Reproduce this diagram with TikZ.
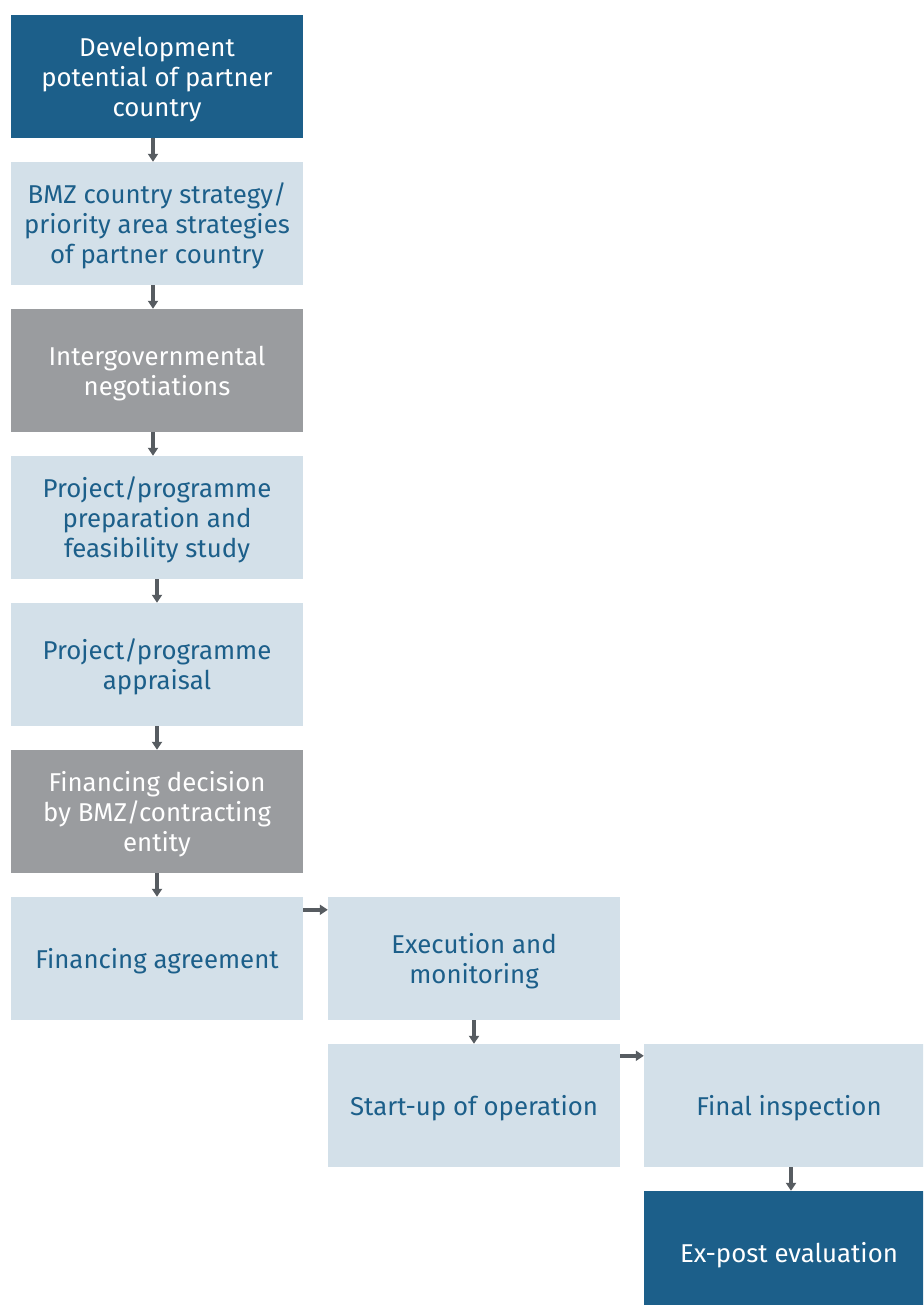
\documentclass[tikz,border=0pt]{standalone}
\usepackage{fontspec}
\setmainfont{Fira Sans}
\usetikzlibrary{arrows.meta}
\definecolor{dblue}{HTML}{1C5F8A}
\definecolor{lblue}{HTML}{D3E0E9}
\definecolor{gbox}{HTML}{9A9C9F}
\definecolor{arrc}{HTML}{575C61}
\newcommand{\topst}{\rule{0pt}{26pt}}
\begin{document}
\begin{tikzpicture}[x=1pt,y=-1pt,
  box/.style={rectangle,minimum width=292pt,minimum height=123pt,inner sep=0pt,align=center,
    font=\fontsize{25.8}{30}\selectfont},
  darkbox/.style={box,fill=dblue,text=white},
  lightbox/.style={box,fill=lblue,text=dblue},
  graybox/.style={box,fill=gbox,text=white},
  arr/.style={draw=arrc,line width=3.5pt,-{Triangle[length=8pt,width=10pt]}}]
\useasboundingbox[fill=white] (0,0) rectangle (923,1305);
\clip (0,0) rectangle (923,1305);
\node[darkbox] (a) at (157,76.5) {\topst Development\\potential of partner\\country};
\node[lightbox] (b) at (157,223.5) {\topst BMZ country strategy/\\priority area strategies\\of partner country};
\node[graybox] (c) at (157,370.5) {\topst Intergovernmental\\negotiations};
\node[lightbox] (d) at (157,517.5) {\topst Project/programme\\preparation and\\feasibility study};
\node[lightbox] (e) at (157,664.5) {\topst Project/programme\\appraisal};
\node[graybox] (f) at (157,811.5) {\topst Financing decision\\by BMZ/contracting\\entity};
\node[lightbox] (g) at (157,958.5) {\topst Financing agreement};
\node[lightbox] (h) at (474,958.5) {\topst Execution and\\monitoring};
\node[lightbox] (i) at (474,1105.5) {\topst Start-up of operation};
\node[lightbox,minimum width=290pt] (j) at (789,1105.5) {\topst Final inspection};
\node[darkbox,minimum width=290pt] (k) at (789,1252.5) {\topst Ex-post evaluation};
\draw[arr] ([xshift=-4pt]a.south) -- ([xshift=-4pt]b.north);
\draw[arr] ([xshift=-4pt]b.south) -- ([xshift=-4pt]c.north);
\draw[arr] ([xshift=-4pt]c.south) -- ([xshift=-4pt]d.north);
\draw[arr] (d.south) -- (e.north);
\draw[arr] (e.south) -- (f.north);
\draw[arr] (f.south) -- (g.north);
\draw[arr] ([yshift=-13pt]g.north east) -- ([yshift=-13pt]h.north west);
\draw[arr] (h.south) -- (i.north);
\draw[arr] ([yshift=-12pt]i.north east) -- ([yshift=-12pt]j.north west);
\draw[arr] ([xshift=2pt]j.south) -- ([xshift=2pt]k.north);
\end{tikzpicture}
\end{document}
